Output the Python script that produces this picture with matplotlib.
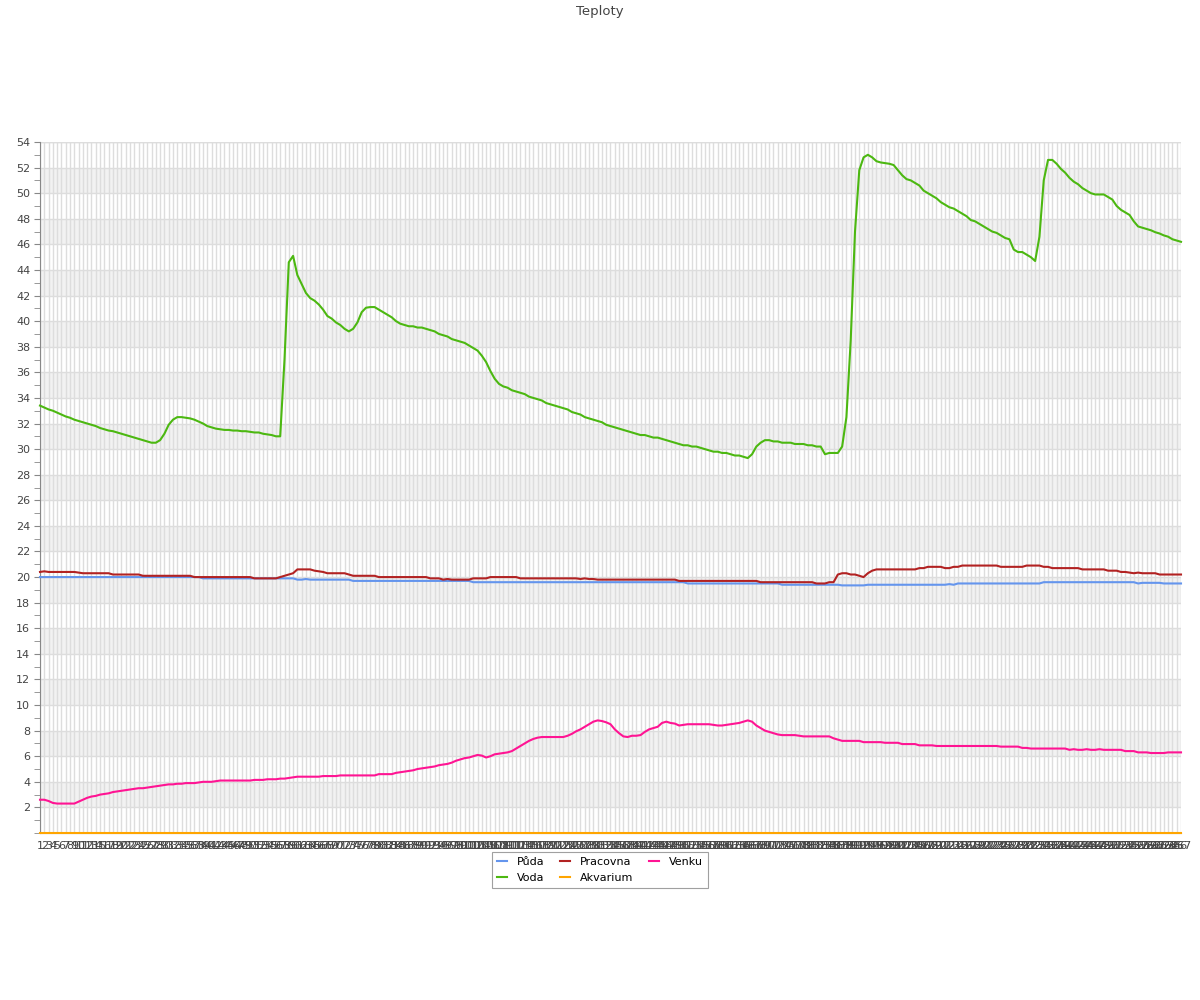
import matplotlib
matplotlib.use("Agg")
import matplotlib.pyplot as plt
from matplotlib.ticker import MultipleLocator

plt.rcParams['font.family'] = ['DejaVu Sans']

title = "Teploty"
series_names = ["Půda", "Voda", "Pracovna", "Akvarium", "Venku"]
series_colors = ["#6495ed", "#4cb811", "#b22222", "#ffa500", "#ff1493"]

voda = [
    33.4, 33.25, 33.1, 33.0, 32.85, 32.7, 32.55, 32.45, 32.3, 32.2,
    32.1, 32.0, 31.9, 31.8, 31.65, 31.55, 31.45, 31.4, 31.3, 31.2,
    31.1, 31.0, 30.9, 30.8, 30.7, 30.6, 30.5, 30.5, 30.7, 31.2,
    31.9, 32.3, 32.5, 32.5, 32.45, 32.4, 32.3, 32.15, 32.0, 31.8,
    31.7, 31.6, 31.55, 31.5, 31.5, 31.45, 31.45, 31.4, 31.4, 31.35,
    31.3, 31.3, 31.2, 31.15, 31.1, 31.0, 31.0, 37.0, 44.6, 45.1,
    43.6, 42.9, 42.2, 41.8, 41.6, 41.3, 40.9, 40.4, 40.2, 39.9,
    39.7, 39.4, 39.2, 39.4, 39.9, 40.7, 41.05, 41.1, 41.1, 40.9,
    40.7, 40.5, 40.3, 40.0, 39.8, 39.7, 39.6, 39.6, 39.5, 39.5,
    39.4, 39.3, 39.2, 39.0, 38.9, 38.8, 38.6, 38.5, 38.4, 38.3,
    38.1, 37.9, 37.7, 37.3, 36.8, 36.1, 35.5, 35.1, 34.9, 34.8,
    34.6, 34.5, 34.4, 34.3, 34.1, 34.0, 33.9, 33.8, 33.6, 33.5,
    33.4, 33.3, 33.2, 33.1, 32.9, 32.8, 32.7, 32.5, 32.4, 32.3,
    32.2, 32.1, 31.9, 31.8, 31.7, 31.6, 31.5, 31.4, 31.3, 31.2,
    31.1, 31.1, 31.0, 30.9, 30.9, 30.8, 30.7, 30.6, 30.5, 30.4,
    30.3, 30.3, 30.2, 30.2, 30.1, 30.0, 29.9, 29.8, 29.8, 29.7,
    29.7, 29.6, 29.5, 29.5, 29.4, 29.3, 29.6, 30.2, 30.5, 30.7,
    30.7, 30.6, 30.6, 30.5, 30.5, 30.5, 30.4, 30.4, 30.4, 30.3,
    30.3, 30.2, 30.2, 29.6, 29.7, 29.7, 29.7, 30.2, 32.5, 38.5,
    47.0, 51.8, 52.8, 53.0, 52.8, 52.5, 52.4, 52.35, 52.3, 52.2,
    51.8, 51.4, 51.1, 51.0, 50.8, 50.6, 50.2, 50.0, 49.8, 49.6,
    49.3, 49.1, 48.9, 48.8, 48.6, 48.4, 48.2, 47.9, 47.8, 47.6,
    47.4, 47.2, 47.0, 46.9, 46.7, 46.5, 46.4, 45.6, 45.4, 45.4,
    45.2, 45.0, 44.7, 46.6, 51.0, 52.6, 52.6, 52.3, 51.9, 51.6,
    51.2, 50.9, 50.7, 50.4, 50.2, 50.0, 49.9, 49.9, 49.9, 49.7,
    49.5, 49.0, 48.7, 48.5, 48.3, 47.8, 47.4, 47.3, 47.2, 47.1,
    46.95, 46.85, 46.7, 46.6, 46.4, 46.3, 46.2,
]

pracovna = [
    20.4, 20.45, 20.4, 20.4, 20.4, 20.4, 20.4, 20.4, 20.4, 20.35,
    20.3, 20.3, 20.3, 20.3, 20.3, 20.3, 20.3, 20.2, 20.2, 20.2,
    20.2, 20.2, 20.2, 20.2, 20.1, 20.1, 20.1, 20.1, 20.1, 20.1,
    20.1, 20.1, 20.1, 20.1, 20.1, 20.1, 20.0, 20.0, 20.0, 20.0,
    20.0, 20.0, 20.0, 20.0, 20.0, 20.0, 20.0, 20.0, 20.0, 20.0,
    19.9, 19.9, 19.9, 19.9, 19.9, 19.9, 20.0, 20.1, 20.2, 20.3,
    20.6, 20.6, 20.6, 20.6, 20.5, 20.45, 20.4, 20.3, 20.3, 20.3,
    20.3, 20.3, 20.2, 20.1, 20.1, 20.1, 20.1, 20.1, 20.1, 20.0,
    20.0, 20.0, 20.0, 20.0, 20.0, 20.0, 20.0, 20.0, 20.0, 20.0,
    20.0, 19.9, 19.9, 19.9, 19.8, 19.85, 19.8, 19.8, 19.8, 19.8,
    19.8, 19.9, 19.9, 19.9, 19.9, 20.0, 20.0, 20.0, 20.0, 20.0,
    20.0, 20.0, 19.9, 19.9, 19.9, 19.9, 19.9, 19.9, 19.9, 19.9,
    19.9, 19.9, 19.9, 19.9, 19.9, 19.9, 19.85, 19.9, 19.85, 19.85,
    19.8, 19.8, 19.8, 19.8, 19.8, 19.8, 19.8, 19.8, 19.8, 19.8,
    19.8, 19.8, 19.8, 19.8, 19.8, 19.8, 19.8, 19.8, 19.8, 19.7,
    19.7, 19.7, 19.7, 19.7, 19.7, 19.7, 19.7, 19.7, 19.7, 19.7,
    19.7, 19.7, 19.7, 19.7, 19.7, 19.7, 19.7, 19.7, 19.6, 19.6,
    19.6, 19.6, 19.6, 19.6, 19.6, 19.6, 19.6, 19.6, 19.6, 19.6,
    19.6, 19.5, 19.5, 19.5, 19.6, 19.6, 20.2, 20.3, 20.3, 20.2,
    20.2, 20.1, 20.0, 20.3, 20.5, 20.6, 20.6, 20.6, 20.6, 20.6,
    20.6, 20.6, 20.6, 20.6, 20.6, 20.7, 20.7, 20.8, 20.8, 20.8,
    20.8, 20.7, 20.7, 20.8, 20.8, 20.9, 20.9, 20.9, 20.9, 20.9,
    20.9, 20.9, 20.9, 20.9, 20.8, 20.8, 20.8, 20.8, 20.8, 20.8,
    20.9, 20.9, 20.9, 20.9, 20.8, 20.8, 20.7, 20.7, 20.7, 20.7,
    20.7, 20.7, 20.7, 20.6, 20.6, 20.6, 20.6, 20.6, 20.6, 20.5,
    20.5, 20.5, 20.4, 20.4, 20.35, 20.3, 20.35, 20.3, 20.3, 20.3,
    20.3, 20.2, 20.2, 20.2, 20.2, 20.2, 20.2,
]

puda = [
    20.0, 20.0, 20.0, 20.0, 20.0, 20.0, 20.0, 20.0, 20.0, 20.0,
    20.0, 20.0, 20.0, 20.0, 20.0, 20.0, 20.0, 20.0, 20.0, 20.0,
    20.0, 20.0, 20.0, 20.0, 20.0, 20.0, 20.0, 20.0, 20.0, 20.0,
    20.0, 20.0, 20.0, 20.0, 20.0, 20.0, 20.0, 20.0, 19.9, 19.9,
    19.9, 19.9, 19.9, 19.9, 19.9, 19.9, 19.9, 19.9, 19.9, 19.9,
    19.9, 19.9, 19.9, 19.9, 19.9, 19.9, 19.9, 19.9, 19.9, 19.9,
    19.8, 19.8, 19.85, 19.8, 19.8, 19.8, 19.8, 19.8, 19.8, 19.8,
    19.8, 19.8, 19.8, 19.7, 19.7, 19.7, 19.7, 19.7, 19.7, 19.7,
    19.7, 19.7, 19.7, 19.7, 19.7, 19.7, 19.7, 19.7, 19.7, 19.7,
    19.7, 19.7, 19.7, 19.7, 19.7, 19.7, 19.7, 19.7, 19.7, 19.7,
    19.7, 19.6, 19.6, 19.6, 19.6, 19.6, 19.6, 19.6, 19.6, 19.6,
    19.6, 19.6, 19.6, 19.6, 19.6, 19.6, 19.6, 19.6, 19.6, 19.6,
    19.6, 19.6, 19.6, 19.6, 19.6, 19.6, 19.6, 19.6, 19.6, 19.6,
    19.6, 19.6, 19.6, 19.6, 19.6, 19.6, 19.6, 19.6, 19.6, 19.6,
    19.6, 19.6, 19.6, 19.6, 19.6, 19.6, 19.6, 19.6, 19.6, 19.6,
    19.6, 19.5, 19.5, 19.5, 19.5, 19.5, 19.5, 19.5, 19.5, 19.5,
    19.5, 19.5, 19.5, 19.5, 19.5, 19.5, 19.5, 19.5, 19.5, 19.5,
    19.5, 19.5, 19.5, 19.4, 19.4, 19.4, 19.4, 19.4, 19.4, 19.4,
    19.4, 19.4, 19.4, 19.4, 19.4, 19.4, 19.4, 19.35, 19.35, 19.35,
    19.35, 19.35, 19.35, 19.4, 19.4, 19.4, 19.4, 19.4, 19.4, 19.4,
    19.4, 19.4, 19.4, 19.4, 19.4, 19.4, 19.4, 19.4, 19.4, 19.4,
    19.4, 19.4, 19.45, 19.4, 19.5, 19.5, 19.5, 19.5, 19.5, 19.5,
    19.5, 19.5, 19.5, 19.5, 19.5, 19.5, 19.5, 19.5, 19.5, 19.5,
    19.5, 19.5, 19.5, 19.5, 19.6, 19.6, 19.6, 19.6, 19.6, 19.6,
    19.6, 19.6, 19.6, 19.6, 19.6, 19.6, 19.6, 19.6, 19.6, 19.6,
    19.6, 19.6, 19.6, 19.6, 19.6, 19.6, 19.5, 19.55, 19.55, 19.55,
    19.55, 19.55, 19.5, 19.5, 19.5, 19.5, 19.5,
]

venku = [
    2.6, 2.6, 2.5, 2.35, 2.3, 2.3, 2.3, 2.3, 2.3, 2.45,
    2.6, 2.75, 2.85, 2.9, 3.0, 3.05, 3.1, 3.2, 3.25, 3.3,
    3.35, 3.4, 3.45, 3.5, 3.5, 3.55, 3.6, 3.65, 3.7, 3.75,
    3.8, 3.8, 3.85, 3.85, 3.9, 3.9, 3.9, 3.95, 4.0, 4.0,
    4.0, 4.05, 4.1, 4.1, 4.1, 4.1, 4.1, 4.1, 4.1, 4.1,
    4.15, 4.15, 4.15, 4.2, 4.2, 4.2, 4.25, 4.25, 4.3, 4.35,
    4.4, 4.4, 4.4, 4.4, 4.4, 4.4, 4.45, 4.45, 4.45, 4.45,
    4.5, 4.5, 4.5, 4.5, 4.5, 4.5, 4.5, 4.5, 4.5, 4.6,
    4.6, 4.6, 4.6, 4.7, 4.75, 4.8, 4.85, 4.9, 5.0, 5.05,
    5.1, 5.15, 5.2, 5.3, 5.35, 5.4, 5.5, 5.65, 5.75, 5.85,
    5.9, 6.0, 6.1, 6.05, 5.9, 6.0, 6.15, 6.2, 6.25, 6.3,
    6.4, 6.6, 6.8, 7.0, 7.2, 7.35, 7.45, 7.5, 7.5, 7.5,
    7.5, 7.5, 7.5, 7.6, 7.75, 7.95, 8.1, 8.3, 8.5, 8.7,
    8.8, 8.75, 8.65, 8.5, 8.1, 7.8, 7.55, 7.5, 7.6, 7.6,
    7.65, 7.9, 8.1, 8.2, 8.3, 8.6, 8.7, 8.6, 8.55, 8.4,
    8.45, 8.5, 8.5, 8.5, 8.5, 8.5, 8.5, 8.45, 8.4, 8.4,
    8.45, 8.5, 8.55, 8.6, 8.7, 8.8, 8.7, 8.4, 8.2, 8.0,
    7.9, 7.8, 7.7, 7.65, 7.65, 7.65, 7.65, 7.6, 7.55, 7.55,
    7.55, 7.55, 7.55, 7.55, 7.55, 7.4, 7.3, 7.2, 7.2, 7.2,
    7.2, 7.2, 7.1, 7.1, 7.1, 7.1, 7.1, 7.05, 7.05, 7.05,
    7.05, 6.95, 6.95, 6.95, 6.95, 6.85, 6.85, 6.85, 6.85, 6.8,
    6.8, 6.8, 6.8, 6.8, 6.8, 6.8, 6.8, 6.8, 6.8, 6.8,
    6.8, 6.8, 6.8, 6.8, 6.75, 6.75, 6.75, 6.75, 6.75, 6.65,
    6.65, 6.6, 6.6, 6.6, 6.6, 6.6, 6.6, 6.6, 6.6, 6.6,
    6.5, 6.55, 6.5, 6.5, 6.55, 6.5, 6.5, 6.55, 6.5, 6.5,
    6.5, 6.5, 6.5, 6.4, 6.4, 6.4, 6.3, 6.3, 6.3, 6.25,
    6.25, 6.25, 6.25, 6.3, 6.3, 6.3, 6.3,
]

akvarium = [0.0 for _ in voda]

labels = [str(k + 1) for k in range(len(voda))]

data = {
    "Půda": puda,
    "Voda": voda,
    "Pracovna": pracovna,
    "Akvarium": akvarium,
    "Venku": venku,
}

fig = plt.figure(figsize=(12, 10), dpi=100)
ax = fig.add_axes([40 / 1200, 1 - 833 / 1000, 1141 / 1200, (833 - 142) / 1000])

n = len(labels)
xs = list(range(n))

# alternating bands
for lo in range(2, 54, 4):
    ax.axhspan(lo, lo + 2, color="#f2f2f2", zorder=0, lw=0)

ax.set_xlim(0, n - 1)
ax.set_ylim(0, 54)

ax.yaxis.set_minor_locator(MultipleLocator(1))
ax.set_xticks(xs)
ax.set_xticklabels(labels, fontsize=8, color="#444444")
ax.tick_params(axis="x", length=0, pad=6)
ax.tick_params(axis="y", which="both", length=4, color="#888888",
               labelsize=8, labelcolor="#444444", pad=3)
yt = list(range(2, 55, 2))
ax.set_yticks(yt)
ax.set_yticklabels([str(v) for v in yt])

ax.grid(True, axis="both", which="major", color="#dddddd", lw=1, zorder=1)
ax.set_axisbelow(True)
ax.axhline(54, color="#dddddd", lw=1, zorder=1)

for sp in ["top", "right"]:
    ax.spines[sp].set_visible(False)
ax.spines["left"].set_color("#888888")
ax.spines["bottom"].set_color("#888888")

handles = []
for name, col in zip(series_names, series_colors):
    h, = ax.plot(xs, data[name], color=col, lw=1.5, label=name, zorder=3,
                 clip_on=False)
    handles.append(h)

fig.text(0.5, 1 - 11 / 1000, title, ha="center", va="center",
         fontsize=9.5, color="#444444")

leg = fig.legend(handles=handles, labels=series_names, loc="upper center",
                 bbox_to_anchor=(0.5, 1 - 852 / 1000), ncol=3, fontsize=8,
                 frameon=True, fancybox=False, edgecolor="#888888",
                 handlelength=0.9, handletextpad=0.9, columnspacing=1.4,
                 borderpad=0.45, labelspacing=0.5, borderaxespad=0)
leg.get_frame().set_linewidth(0.8)

fig.savefig("out.png", dpi=100)
